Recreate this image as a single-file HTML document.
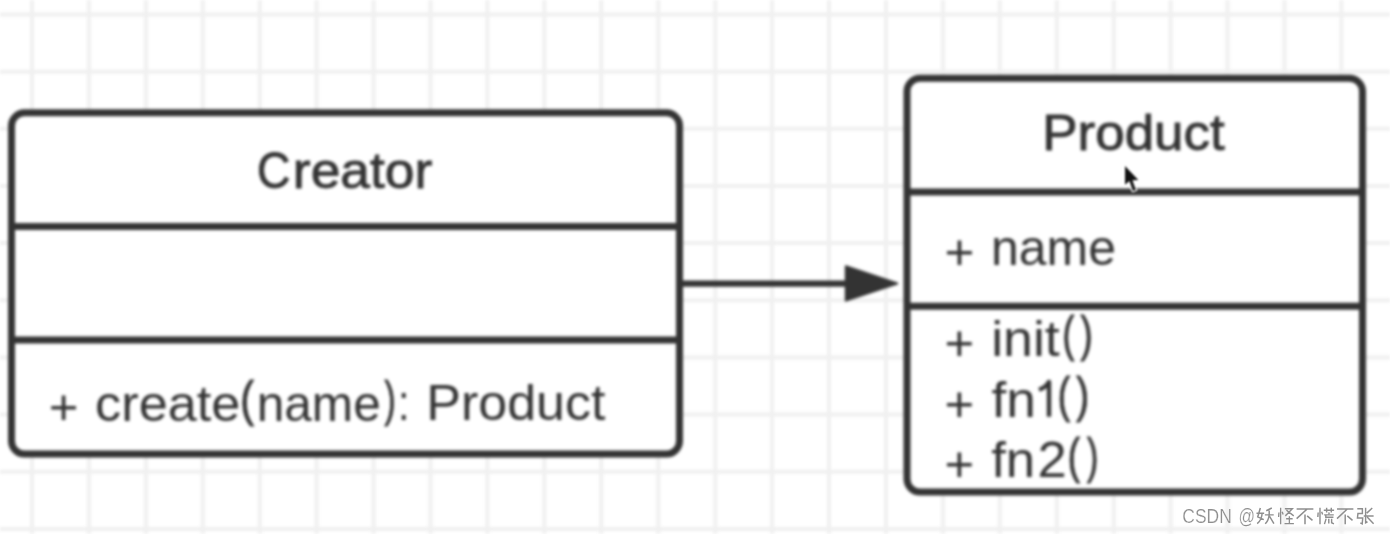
<!DOCTYPE html>
<html><head><meta charset="utf-8">
<style>
html,body{margin:0;padding:0;background:#fff;width:1390px;height:534px;overflow:hidden}
svg{position:absolute;left:0;top:0;display:block;filter:blur(1.6px)}
text{font-family:"Liberation Sans",sans-serif;fill:#333}
</style></head><body>
<svg width="1390" height="534" viewBox="0 0 1390 534">
<g stroke="#f0f0f0" stroke-width="4">
<line x1="32.0" y1="0" x2="32.0" y2="534"/>
<line x1="88.9" y1="0" x2="88.9" y2="534"/>
<line x1="145.9" y1="0" x2="145.9" y2="534"/>
<line x1="202.8" y1="0" x2="202.8" y2="534"/>
<line x1="259.7" y1="0" x2="259.7" y2="534"/>
<line x1="316.6" y1="0" x2="316.6" y2="534"/>
<line x1="373.6" y1="0" x2="373.6" y2="534"/>
<line x1="430.5" y1="0" x2="430.5" y2="534"/>
<line x1="487.4" y1="0" x2="487.4" y2="534"/>
<line x1="544.4" y1="0" x2="544.4" y2="534"/>
<line x1="601.3" y1="0" x2="601.3" y2="534"/>
<line x1="658.2" y1="0" x2="658.2" y2="534"/>
<line x1="715.2" y1="0" x2="715.2" y2="534"/>
<line x1="772.1" y1="0" x2="772.1" y2="534"/>
<line x1="829.0" y1="0" x2="829.0" y2="534"/>
<line x1="886.0" y1="0" x2="886.0" y2="534"/>
<line x1="942.9" y1="0" x2="942.9" y2="534"/>
<line x1="999.8" y1="0" x2="999.8" y2="534"/>
<line x1="1056.7" y1="0" x2="1056.7" y2="534"/>
<line x1="1113.7" y1="0" x2="1113.7" y2="534"/>
<line x1="1170.6" y1="0" x2="1170.6" y2="534"/>
<line x1="1227.5" y1="0" x2="1227.5" y2="534"/>
<line x1="1284.5" y1="0" x2="1284.5" y2="534"/>
<line x1="1341.4" y1="0" x2="1341.4" y2="534"/>
<line x1="0" y1="14.5" x2="1390" y2="14.5"/>
<line x1="0" y1="71.7" x2="1390" y2="71.7"/>
<line x1="0" y1="128.8" x2="1390" y2="128.8"/>
<line x1="0" y1="185.9" x2="1390" y2="185.9"/>
<line x1="0" y1="243.1" x2="1390" y2="243.1"/>
<line x1="0" y1="300.2" x2="1390" y2="300.2"/>
<line x1="0" y1="357.4" x2="1390" y2="357.4"/>
<line x1="0" y1="414.6" x2="1390" y2="414.6"/>
<line x1="0" y1="471.7" x2="1390" y2="471.7"/>
<line x1="0" y1="528.9" x2="1390" y2="528.9"/>
</g>
<g fill="#fff" stroke="#333" stroke-width="7">
<rect x="11.5" y="112.8" width="668" height="341.2" rx="13" ry="13"/>
<line x1="11.5" y1="226.4" x2="679.5" y2="226.4"/>
<line x1="11.5" y1="340.1" x2="679.5" y2="340.1"/>
<rect x="907" y="78.3" width="455.5" height="413.7" rx="13" ry="13"/>
<line x1="907" y1="192" x2="1362.5" y2="192"/>
<line x1="907" y1="306.2" x2="1362.5" y2="306.2"/>
<line x1="679.5" y1="283.6" x2="850" y2="283.6" stroke-width="6.3"/>
</g>
<polygon points="845.8,266.2 897.3,283.5 845.8,300.6" fill="#333" stroke="#333" stroke-width="2" stroke-linejoin="round"/>
<text transform="translate(256.95,188.30) scale(0.9273,1.0000)" font-size="50" stroke="#333" stroke-width="0.9">C</text>
<text transform="translate(292.87,188.10) scale(1.0674,1.0000)" font-size="50" stroke="#333" stroke-width="0.9">reator</text>
<text transform="translate(1042.33,150.20) scale(1.0582,1.0000)" font-size="50" stroke="#333" stroke-width="0.9">Product</text>
<text transform="translate(48.74,424.30) scale(1.0280,1.0000)" font-size="49.5">+</text>
<text transform="translate(95.09,420.50) scale(1.0567,1.0000)" font-size="49.5">create</text>
<text transform="translate(240.31,416.14) scale(0.8308,1.0261)" font-size="49.5" stroke="#333" stroke-width="1.0">(</text>
<text transform="translate(256.69,420.50) scale(1.0017,1.0000)" font-size="49.5">name</text>
<text transform="translate(384.40,416.14) scale(0.6714,1.0261)" font-size="49.5" stroke="#333" stroke-width="1.0">)</text>
<text transform="translate(397.97,420.40) scale(0.8333,1.0000)" font-size="49.5">:</text>
<text transform="translate(426.20,420.40) scale(1.0509,1.0000)" font-size="49.5">Product</text>
<text transform="translate(944.43,268.60) scale(1.0360,1.0000)" font-size="49.5">+</text>
<text transform="translate(990.97,264.60) scale(1.0101,1.0000)" font-size="49.5">name</text>
<text transform="translate(944.44,360.20) scale(1.0280,1.0000)" font-size="49.5">+</text>
<text transform="translate(991.14,355.70) scale(1.0850,1.0000)" font-size="49.5">init</text>
<text transform="translate(1062.55,351.33) scale(0.7154,1.0065)" font-size="49.5" stroke="#333" stroke-width="1.0">(</text>
<text transform="translate(1080.60,351.33) scale(0.7357,1.0065)" font-size="49.5" stroke="#333" stroke-width="1.0">)</text>
<text transform="translate(944.44,420.70) scale(1.0280,1.0000)" font-size="49.5">+</text>
<text transform="translate(991.40,416.70) scale(1.0769,1.0000)" font-size="49.5">fn</text>
<text transform="translate(1057.66,411.93) scale(0.7462,1.0065)" font-size="49.5" stroke="#333" stroke-width="1.0">(</text>
<text transform="translate(1076.30,411.93) scale(0.7786,1.0065)" font-size="49.5" stroke="#333" stroke-width="1.0">)</text>
<text transform="translate(944.44,481.40) scale(1.0280,1.0000)" font-size="49.5">+</text>
<text transform="translate(991.20,477.20) scale(1.0667,1.0000)" font-size="49.5">fn</text>
<text transform="translate(1037.48,477.20) scale(1.0609,1.0000)" font-size="49.5">2</text>
<text transform="translate(1067.68,473.29) scale(0.7385,1.0109)" font-size="49.5" stroke="#333" stroke-width="1.0">(</text>
<text transform="translate(1087.00,473.29) scale(0.6857,1.0109)" font-size="49.5" stroke="#333" stroke-width="1.0">)</text>
<path d="M1049,416.7 L1049,381.8 Q1046,387.5 1039,389.8" fill="none" stroke="#333" stroke-width="4.3" stroke-linejoin="round"/>

</svg>
<svg width="1390" height="534" viewBox="0 0 1390 534" style="filter:blur(0.5px)">
<text x="1182.3" y="522.9" font-size="19.8" textLength="49.5" lengthAdjust="spacingAndGlyphs" stroke="#fff" stroke-width="0.2" style="fill:#8e8e8e">CSDN</text>
<text transform="translate(1238.5,523) scale(0.82,1)" font-size="19.8" stroke="#fff" stroke-width="0.2" style="fill:#8e8e8e">@</text>
<g fill="none" stroke="#8e8e8e" stroke-width="0.085" vector-effect="none"><path transform="translate(1256.5,507.3) scale(17.4,17.2)" d="M0.22,0.04 L0.07,0.56 L0.42,0.72 M0.33,0.3 Q0.3,0.75 0.04,0.95 M0.0,0.34 L0.44,0.34 M0.88,0.04 L0.56,0.2 M0.48,0.44 L0.99,0.44 M0.73,0.18 L0.73,0.46 Q0.68,0.8 0.5,0.96 M0.75,0.52 L1.0,0.95"/><path transform="translate(1278.3,507.3) scale(15.6,17.2)" d="M0.15,0.02 L0.15,0.98 M0.04,0.3 L0.02,0.56 M0.25,0.26 L0.31,0.42 M0.42,0.08 L0.9,0.08 L0.45,0.5 M0.52,0.16 L0.99,0.5 M0.5,0.66 L0.92,0.66 M0.71,0.52 L0.71,0.94 M0.4,0.95 L1.0,0.95"/><path transform="translate(1296.1,507.3) scale(17.8,17.2)" d="M0.03,0.1 L0.97,0.1 M0.62,0.1 L0.03,0.66 M0.5,0.42 L0.5,0.98 M0.62,0.5 L0.92,0.76"/><path transform="translate(1317.5,507.3) scale(16.6,17.2)" d="M0.15,0.02 L0.15,0.98 M0.04,0.3 L0.02,0.56 M0.25,0.26 L0.31,0.42 M0.38,0.17 L1.0,0.17 M0.55,0.02 L0.55,0.3 M0.83,0.02 L0.83,0.3 M0.68,0.3 L0.7,0.4 M0.4,0.44 L0.98,0.44 M0.5,0.44 L0.5,0.58 L0.96,0.58 M0.52,0.66 L0.42,0.98 M0.68,0.66 L0.68,0.94 M0.85,0.66 L0.85,0.9 L0.99,0.96"/><path transform="translate(1336.5,507.3) scale(17.4,17.2)" d="M0.03,0.1 L0.97,0.1 M0.62,0.1 L0.03,0.66 M0.5,0.42 L0.5,0.98 M0.62,0.5 L0.92,0.76"/><path transform="translate(1356.6,507.3) scale(17.0,17.2)" d="M0.04,0.08 L0.34,0.08 L0.34,0.36 L0.08,0.36 L0.05,0.62 L0.36,0.62 L0.33,0.96 L0.22,0.9 M0.53,0.02 L0.53,0.9 L0.64,0.84 M0.92,0.04 L0.6,0.34 M0.42,0.5 L1.0,0.5 M0.62,0.56 L1.0,0.96"/></g>

</svg>
<svg width="1390" height="534" viewBox="0 0 1390 534" style="filter:blur(0.9px)">
<path d="M1125,166 L1125,184.8 L1129.4,181 L1132.9,191 L1135.9,189.9 L1132.4,180.2 L1138.3,180 Z" fill="#111" stroke="#fff" stroke-width="2.6" stroke-linejoin="round" paint-order="stroke"/>
</svg>
</body></html>
